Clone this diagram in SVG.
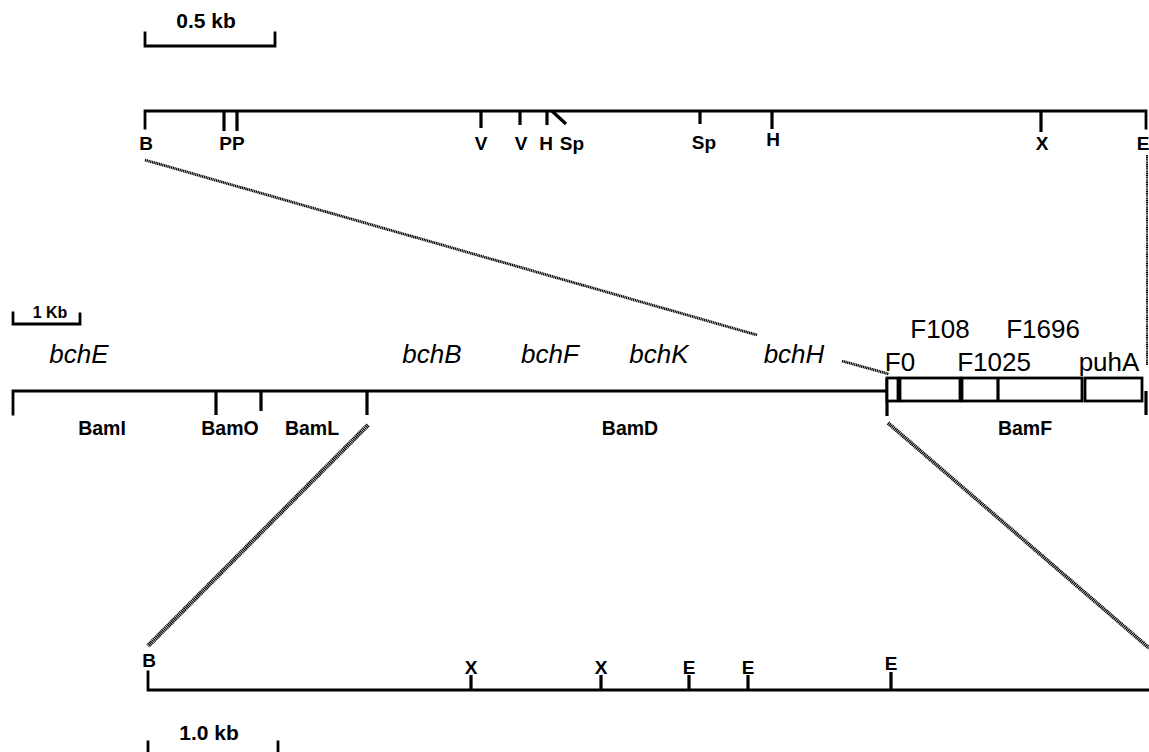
<svg xmlns="http://www.w3.org/2000/svg" width="1149" height="752" viewBox="0 0 1149 752">
<style>
.ln{stroke:#000;stroke-width:2.8;fill:none;stroke-linecap:square}
.tk{stroke:#000;stroke-width:3.2;fill:none}
.bx{stroke:#000;stroke-width:2.8;fill:#fff}
.hx{stroke:#000;fill:none;stroke-dasharray:1.2 0.6}
.lb{font-family:"Liberation Sans",Arial,sans-serif;font-weight:bold;font-size:19px;fill:#000;text-anchor:middle}
.bm{font-family:"Liberation Sans",Arial,sans-serif;font-weight:bold;font-size:19.5px;fill:#000;text-anchor:middle}
.sc{font-family:"Liberation Sans",Arial,sans-serif;font-weight:bold;font-size:21px;fill:#000;text-anchor:middle}
.gn{font-family:"Liberation Sans",Arial,sans-serif;font-style:italic;font-size:26px;fill:#000;text-anchor:middle}
.fr{font-family:"Liberation Sans",Arial,sans-serif;font-size:26px;fill:#000;text-anchor:middle}
</style>
<rect width="1149" height="752" fill="#fff"/>

<g id="scale-top">
<path class="ln" d="M145,33 V46 H275 V33"/>
<text class="sc" x="206" y="28">0.5 kb</text>
</g>

<g id="map-top">
<path class="ln" d="M145,128 V111 H1146 V128"/>
<path class="tk" d="M224,111V131 M237,111V131 M481,111V128 M520,111V125 M547,111V125 M772,111V129 M1041,111V132 M700,111V124"/>
<path class="tk" d="M552,111 L566,124"/>
<text class="lb" x="146" y="150">B</text>
<text class="lb" x="232" y="150">PP</text>
<text class="lb" x="481" y="150">V</text>
<text class="lb" x="521" y="150">V</text>
<text class="lb" x="546" y="150">H</text>
<text class="lb" x="572" y="150">Sp</text>
<text class="lb" x="704" y="149">Sp</text>
<text class="lb" x="773" y="146">H</text>
<text class="lb" x="1042" y="150">X</text>
<text class="lb" x="1143" y="150">E</text>
</g>

<g id="scale-mid">
<path class="ln" d="M13,313 V324 H80 V314"/>
<text class="lb" x="50" y="318" style="font-size:16px">1 Kb</text>
</g>

<g id="map-mid">
<path class="ln" d="M13,414 V391 H887"/>
<path class="tk" d="M216,391V415 M261,391V411 M367,391V415 M887,378V416 M1146,391V415"/>
<rect class="bx" x="887" y="378" width="11" height="23"/>
<rect class="bx" x="900" y="378" width="60" height="23"/>
<rect class="bx" x="962" y="378" width="120" height="23"/>
<path class="tk" d="M998,378V401"/>
<rect class="bx" x="1085" y="378" width="57" height="23"/>
<text class="bm" x="102" y="435">BamI</text>
<text class="bm" x="230" y="435">BamO</text>
<text class="bm" x="312" y="435">BamL</text>
<text class="bm" x="630" y="435">BamD</text>
<text class="bm" x="1025" y="435">BamF</text>
</g>

<g id="genes">
<text class="gn" x="79" y="363">bchE</text>
<text class="gn" x="432" y="363">bchB</text>
<text class="gn" x="550" y="363">bchF</text>
<text class="gn" x="659" y="363">bchK</text>
<text class="gn" x="794" y="363">bchH</text>
<text class="fr" x="900" y="371">F0</text>
<text class="fr" x="940" y="338">F108</text>
<text class="fr" x="994" y="371">F1025</text>
<text class="fr" x="1043" y="338">F1696</text>
<text class="fr" x="1109" y="371">puhA</text>
</g>

<g id="map-bottom">
<path class="ln" d="M148,672 V690 H1149"/>
<path class="tk" d="M471,675V690 M601,675V690 M689,675V690 M748,675V690 M891,672V690"/>
<text class="lb" x="149" y="667">B</text>
<text class="lb" x="471" y="674">X</text>
<text class="lb" x="601" y="674">X</text>
<text class="lb" x="689" y="674">E</text>
<text class="lb" x="748" y="674">E</text>
<text class="lb" x="891" y="670">E</text>
</g>

<g id="scale-bottom">
<path class="ln" d="M148,742 V752 M278,742 V752"/>
<text class="sc" x="209" y="740">1.0 kb</text>
</g>

<g id="connectors">
<path class="hx" stroke-width="2.8" d="M145,160 L757,335"/>
<path class="hx" stroke-width="2.8" d="M842,361 L889,374"/>
<path class="hx" stroke-width="2" d="M1147,155 V365"/>
<path class="hx" stroke-width="4.5" d="M368,425 L148,646"/>
<path class="hx" stroke-width="3.8" d="M888,423 L1149,648"/>
</g>
</svg>
